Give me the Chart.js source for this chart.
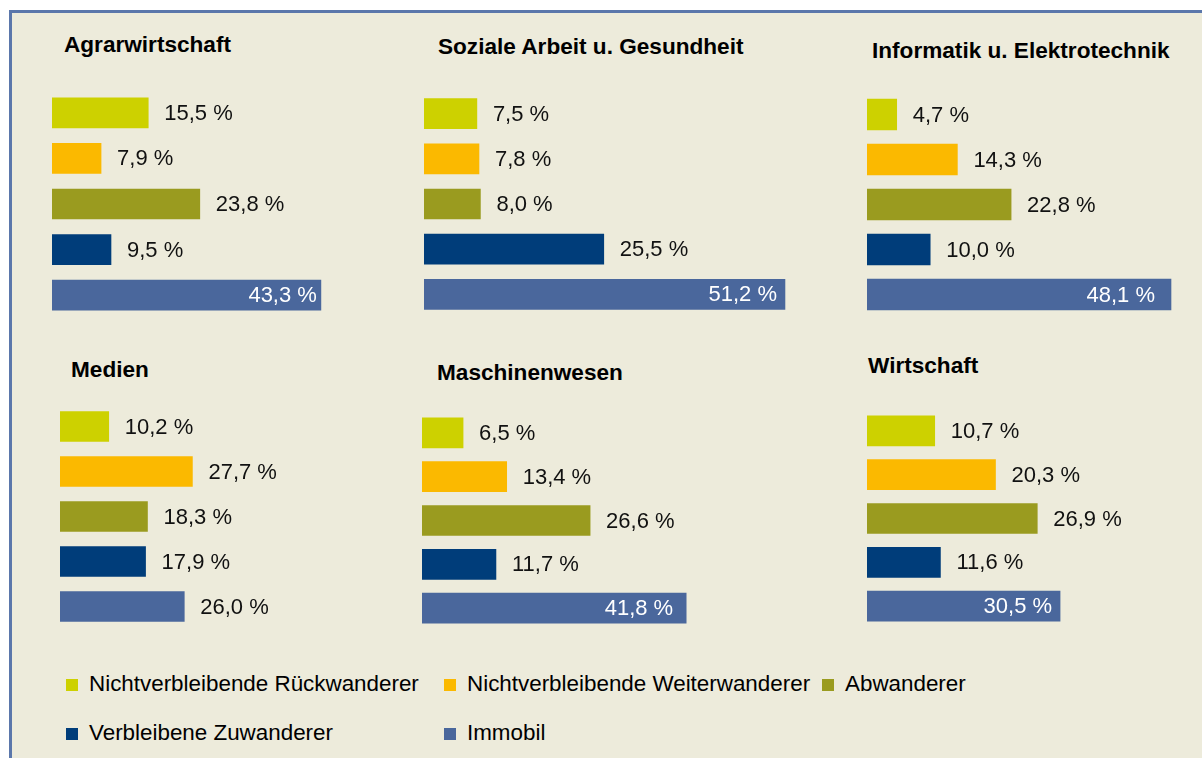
<!DOCTYPE html>
<html lang="de">
<head>
<meta charset="utf-8">
<title>Mobilität nach Fachbereich</title>
<script src="https://cdn.jsdelivr.net/npm/chart.js@4"></script>
<style>
  html, body { margin: 0; padding: 0; background: #fff; }
  body { width: 1202px; height: 758px; overflow: hidden; position: relative;
         font-family: "Liberation Sans", Arial, sans-serif; }
  #frame { position: absolute; left: 9px; top: 10px; width: 1200px; height: 760px;
           background: #EDEBDB; border-left: 3px solid #5B77AB; border-top: 3px solid #5B77AB; }
  canvas { position: absolute; }
  .title { position: absolute; font-weight: bold; font-size: 22.6px; line-height: 22px;
           color: #000; white-space: nowrap; }
  .leg { position: absolute; font-size: 22.4px; line-height: 22px; color: #000; white-space: nowrap; }
  .leg span { position: absolute; left: -23px; top: 6px; width: 12px; height: 12px; }
</style>
</head>
<body>
<div id="frame"></div>
<div id="stage"></div>
<script>
// panels (Fachbereiche)
const panels = ['Agrarwirtschaft', 'Soziale Arbeit u. Gesundheit', 'Informatik u. Elektrotechnik',
                'Medien', 'Maschinenwesen', 'Wirtschaft'];

// series, one value per panel (%)
const seriesNames = ['Nichtverbleibende Rückwanderer', 'Nichtverbleibende Weiterwanderer',
                     'Abwanderer', 'Verbleibene Zuwanderer', 'Immobil'];
const rueckwanderer  = [15.5, 7.5, 4.7, 10.2, 6.5, 10.7];
const weiterwanderer = [7.9, 7.8, 14.3, 27.7, 13.4, 20.3];
const abwanderer     = [23.8, 8.0, 22.8, 18.3, 26.6, 26.9];
const zuwanderer     = [9.5, 25.5, 10.0, 17.9, 11.7, 11.6];
const immobil        = [43.3, 51.2, 48.1, 26.0, 41.8, 30.5];

const seriesColors = ['#CDD100', '#FBB900', '#9A9B1F', '#003D7A', '#4A679C'];

// where each small chart sits on the page
const layout = [
  { left: 52,  top: 90,  w: 340, h: 228, pxPerPct: 6.21, tx: 64,  ty: 34,  thick: 30, pad: 4 },
  { left: 424, top: 91,  w: 400, h: 226, pxPerPct: 7.05, tx: 438, ty: 36,  thick: 30, pad: 8 },
  { left: 867, top: 92,  w: 330, h: 225, pxPerPct: 6.32, tx: 872, ty: 40,  thick: 31, pad: 16 },
  { left: 60,  top: 404, w: 340, h: 225, pxPerPct: 4.78, tx: 71,  ty: 359, thick: 30, pad: 8 },
  { left: 422, top: 411, w: 400, h: 219, pxPerPct: 6.32, tx: 437, ty: 362, thick: 30, pad: 13 },
  { left: 867, top: 409, w: 330, h: 219, pxPerPct: 6.33, tx: 868, ty: 355, thick: 30, pad: 8 }
];

// legend slots: [x of text, top]
const legendPos = [[89, 673], [467, 673], [845, 673], [89, 722], [467, 722]];

const fmt = v => v.toFixed(1).replace('.', ',') + ' %';

// value labels: outside end, except the long Immobil bar which gets a white label inside
const valueLabels = {
  id: 'valueLabels',
  afterDatasetsDraw(chart, args, opts) {
    const ctx = chart.ctx;
    const values = chart.data.datasets[0].data;
    const maxVal = Math.max(...values);
    const meta = chart.getDatasetMeta(0);
    ctx.save();
    ctx.font = '22px "Liberation Sans", Arial, sans-serif';
    ctx.textBaseline = 'middle';
    meta.data.forEach((bar, i) => {
      const inside = i === values.length - 1 && values[i] === maxVal;
      if (inside) {
        ctx.fillStyle = '#fff';
        ctx.textAlign = 'right';
        ctx.fillText(fmt(values[i]), bar.x - opts.pad, bar.y + 1);
      } else {
        ctx.fillStyle = '#111';
        ctx.textAlign = 'left';
        ctx.fillText(fmt(values[i]), bar.x + 16, bar.y + 1);
      }
    });
    ctx.restore();
  }
};

const stage = document.getElementById('stage');

panels.forEach((name, p) => {
  const L = layout[p];

  const t = document.createElement('div');
  t.className = 'title';
  t.style.left = L.tx + 'px';
  t.style.top = L.ty + 'px';
  t.textContent = name;
  stage.appendChild(t);

  const c = document.createElement('canvas');
  c.width = L.w;
  c.height = L.h;
  c.style.left = L.left + 'px';
  c.style.top = L.top + 'px';
  stage.appendChild(c);

  new Chart(c.getContext('2d'), {
    type: 'bar',
    data: {
      labels: seriesNames,
      datasets: [{
        data: [rueckwanderer[p], weiterwanderer[p], abwanderer[p], zuwanderer[p], immobil[p]],
        backgroundColor: seriesColors,
        barThickness: L.thick,
        borderWidth: 0
      }]
    },
    options: {
      indexAxis: 'y',
      responsive: false,
      animation: false,
      layout: { padding: 0 },
      scales: {
        x: { display: false, min: 0, max: L.w / L.pxPerPct },
        y: { display: false }
      },
      plugins: {
        legend: { display: false },
        tooltip: { enabled: false },
        valueLabels: { pad: L.pad }
      }
    },
    plugins: [valueLabels]
  });
});

seriesNames.forEach((name, i) => {
  const d = document.createElement('div');
  d.className = 'leg';
  d.style.left = legendPos[i][0] + 'px';
  d.style.top = legendPos[i][1] + 'px';
  const sw = document.createElement('span');
  sw.style.background = seriesColors[i];
  d.appendChild(sw);
  d.appendChild(document.createTextNode(name));
  stage.appendChild(d);
});
</script>
</body>
</html>
